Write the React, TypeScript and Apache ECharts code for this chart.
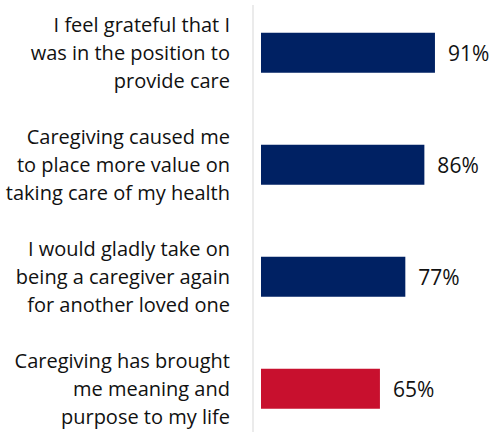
import React, { useEffect, useRef } from "react";
import * as echarts from "echarts";

const categories = [
  "I feel grateful that I\nwas in the position to\nprovide care",
  "Caregiving caused me\nto place more value on\ntaking care of my health",
  "I would gladly take on\nbeing a caregiver again\nfor another loved one",
  "Caregiving has brought\nme meaning and\npurpose to my life",
];
const values = [91, 86, 77, 65];
const barColors = ["#002163", "#002163", "#002163", "#C8102E"];

export default function App() {
  const ref = useRef<HTMLDivElement>(null);
  useEffect(() => {
    if (!ref.current) return;
    const chart = echarts.init(ref.current, undefined, { renderer: "svg" });
    chart.setOption({
      animation: false,
      backgroundColor: "#ffffff",
      grid: {
        left: 261,
        right: 41,
        top: -3.3,
        bottom: -12.7,
        outerBoundsMode: "none",
        containLabel: false,
      },
      xAxis: {
        type: "value",
        min: 8.8,
        max: 100,
        show: false,
      },
      yAxis: {
        type: "category",
        inverse: true,
        data: categories,
        axisLine: { show: false },
        axisTick: { show: false },
        axisLabel: {
          margin: 31,
          align: "right",
          fontFamily: "Open Sans",
          fontSize: 20,
          lineHeight: 28,
          color: "#111111",
        },
      },
      graphic: [
        {
          type: "line",
          shape: { x1: 253, y1: 5, x2: 253, y2: 432 },
          style: { stroke: "#ebebeb", lineWidth: 2 },
          z: 0,
        },
      ],
      series: [
        {
          type: "bar",
          barWidth: 40,
          data: values.map((v, i) => ({ value: v, itemStyle: { color: barColors[i] } })),
          label: {
            show: true,
            position: "right",
            distance: 13,
            formatter: "{c}%",
            fontFamily: "Open Sans",
            fontSize: 21,
            color: "#111111",
          },
        },
      ],
    });
    return () => chart.dispose();
  }, []);
  return (
    <div
      ref={ref}
      style={{ position: "fixed", left: 0, top: 0, width: 495, height: 432 }}
    />
  );
}
